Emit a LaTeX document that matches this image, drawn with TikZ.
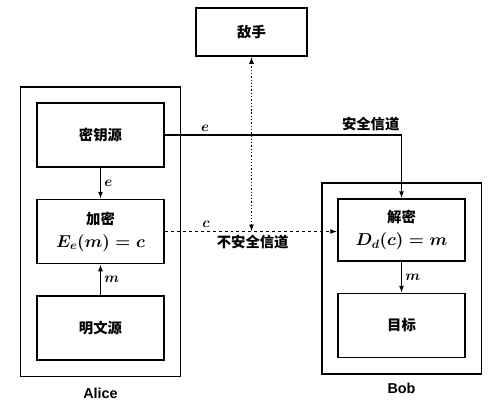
\documentclass[tikz,border=0pt]{standalone}
\usepackage{fontspec}
\newfontfamily\cjk{Noto Sans CJK SC}
\newfontfamily\lab{Liberation Sans}
\usetikzlibrary{arrows.meta,positioning,fit}

\begin{document}
\begin{tikzpicture}[x=1bp,y=-1bp,auto,>={Latex[length=7bp,width=5bp]},node distance=31bp]
\tikzstyle{every path}=[line width=1.3bp];
\tikzstyle{box}=[draw,line width=1.5bp,minimum width=127bp,minimum height=64bp,align=center,font=\cjk\Large\bfseries];
\tikzstyle{frame}=[draw,line width=1.5bp,inner sep=15.5bp];
\tikzstyle{tag}=[font=\Large\boldmath];
\tikzstyle{chan}=[font=\cjk\Large\bfseries];
\useasboundingbox (0,0) rectangle (500,405);
\node[box] (adv) at (251.5,32) [minimum width=111bp,minimum height=48bp] {敌手};
\node[box] (keysrc) at (100.5,135) {密钥源};
\node[box] (enc) [below=of keysrc] {加密\\[5pt]{\LARGE\boldmath$E_e(m)=c$}};
\node[box] (plain) [below=of enc] {明文源};
\node[box] (dec) at (401.5,230) [minimum height=62bp] {解密\\[5pt]{\LARGE\boldmath$D_d(c)=m$}};
\node[box] (goal) [below=of dec] {目标};
\node[frame,fit=(keysrc)(plain)] (alice) {};
\node[frame,fit=(dec)(goal)] (bob) {};
\node (alicename) [below=7bp of alice,font=\lab\Large\bfseries] {Alice};
\node (bobname) [below=5bp of bob,font=\lab\Large\bfseries] {Bob};
\coordinate (tap) at (adv.south |- enc.east);
\path[->] (keysrc) edge node[tag] {$e$} (enc);
\path[->] (plain) edge node[tag,swap] {$m$} (enc);
\path[->] (dec) edge node[tag] {$m$} (goal);
\draw[->] (keysrc.east) -- node[tag,pos=0.17] {$e$} node[chan,pos=0.87] {安全信道}
  (keysrc.east -| dec.north) -- (dec.north);
\draw[->,dashed] (enc.east) -- node[tag,pos=0.24] {$c$} node[chan,swap,pos=0.51] {不安全信道}
  (enc.east -| dec.west);
\path[<->,dotted,line width=1.5bp] (adv) edge (tap);
\end{tikzpicture}
\end{document}
